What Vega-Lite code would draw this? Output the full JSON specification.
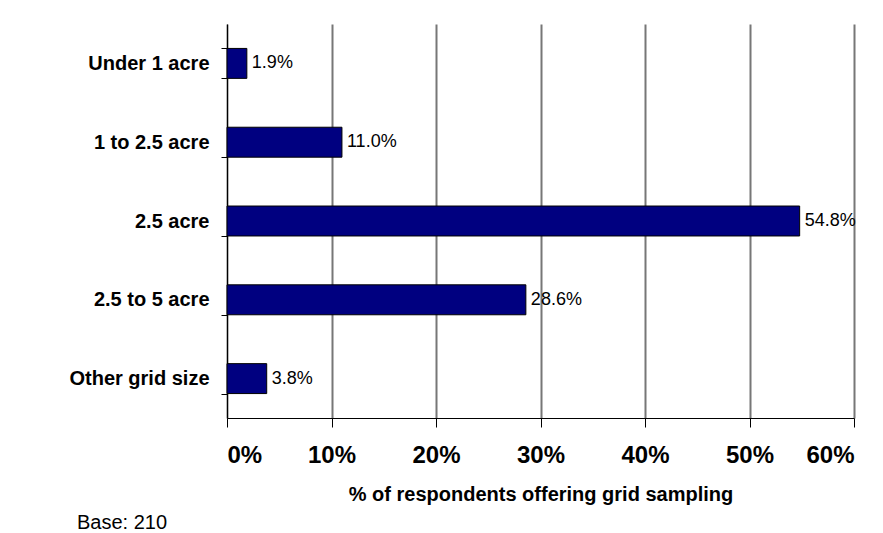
{
  "$schema": "https://vega.github.io/schema/vega-lite/v6.json",
  "width": 627,
  "height": 394,
  "autosize": {"type": "none"},
  "padding": {"left": 227, "top": 24, "right": 29, "bottom": 115},
  "background": "white",
  "config": {
    "view": {"stroke": null},
    "font": "Liberation Sans"
  },
  "title": {
    "text": "Base: 210",
    "orient": "bottom",
    "anchor": "start",
    "frame": "group",
    "dx": -150,
    "offset": 9,
    "fontSize": 20,
    "fontWeight": "normal",
    "color": "black",
    "font": "Liberation Sans"
  },
  "data": {
    "values": [
      {"size": "Under 1 acre", "pct": 0.019},
      {"size": "1 to 2.5 acre", "pct": 0.110},
      {"size": "2.5 acre", "pct": 0.548},
      {"size": "2.5 to 5 acre", "pct": 0.286},
      {"size": "Other grid size", "pct": 0.038}
    ]
  },
  "encoding": {
    "y": {
      "field": "size",
      "type": "nominal",
      "sort": null,
      "scale": {"paddingInner": 0.62, "paddingOuter": 0.31},
      "axis": {
        "title": null,
        "tickBand": "extent",
        "domainColor": "black",
        "domainWidth": 1,
        "tickColor": "black",
        "tickSize": 6,
        "labelPadding": 12,
        "labelFontSize": 20,
        "labelFontWeight": "bold",
        "labelColor": "black",
        "labelFont": "Liberation Sans"
      }
    },
    "x": {
      "field": "pct",
      "type": "quantitative",
      "scale": {"domain": [0, 0.6], "nice": false},
      "axis": {
        "format": ".0%",
        "values": [0, 0.1, 0.2, 0.3, 0.4, 0.5, 0.6],
        "grid": true,
        "gridColor": "#777777",
        "gridWidth": 2,
        "domainColor": "black",
        "domainWidth": 1,
        "tickColor": "black",
        "tickSize": 9,
        "labelPadding": 16,
        "labelFontSize": 24,
        "labelFontWeight": "bold",
        "labelColor": "black",
        "labelFont": "Liberation Sans",
        "title": "% of respondents offering grid sampling",
        "titleFontSize": 20,
        "titleFontWeight": "bold",
        "titleColor": "black",
        "titlePadding": 17,
        "titleFont": "Liberation Sans"
      }
    }
  },
  "layer": [
    {
      "mark": {"type": "bar", "color": "#000080", "stroke": "black", "strokeWidth": 1}
    },
    {
      "mark": {"type": "text", "align": "left", "baseline": "middle", "dx": 5, "fontSize": 18, "color": "black", "font": "Liberation Sans"},
      "encoding": {"text": {"field": "pct", "type": "quantitative", "format": ".1%"}}
    }
  ]
}
